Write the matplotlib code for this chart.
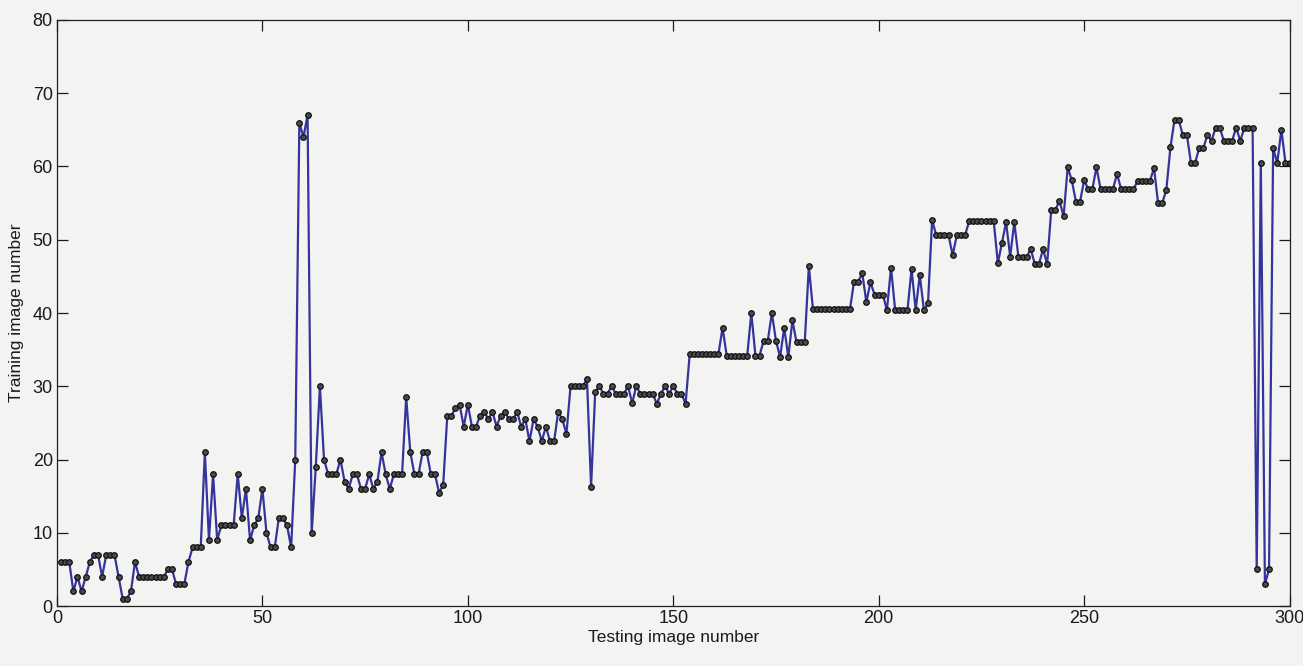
import matplotlib
matplotlib.use("Agg")
import matplotlib.pyplot as plt

# matched training image for each testing image (1..300)
testing_idx = list(range(1, 301))
training_idx = [
    6, 6, 6, 2, 4, 2, 4, 6, 7, 7,
    4, 7, 7, 7, 4, 1, 1, 2, 6, 4,
    4, 4, 4, 4, 4, 4, 5, 5, 3, 3,
    3, 6, 8, 8, 8, 21, 9, 18, 9, 11,
    11, 11, 11, 18, 12, 16, 9, 11, 12, 16,
    10, 8, 8, 12, 12, 11, 8, 20, 66, 64,
    67, 10, 19, 30, 20, 18, 18, 18, 20, 17,
    16, 18, 18, 16, 16, 18, 16, 17, 21, 18,
    16, 18, 18, 18, 28.5, 21, 18, 18, 21, 21,
    18, 18, 15.5, 16.5, 26, 26, 27, 27.5, 24.5, 27.5,
    24.5, 24.5, 26, 26.5, 25.5, 26.5, 24.5, 26, 26.5, 25.5,
    25.5, 26.5, 24.5, 25.5, 22.5, 25.5, 24.5, 22.5, 24.5, 22.5,
    22.5, 26.5, 25.5, 23.5, 30, 30, 30, 30, 31, 16.3,
    29.2, 30, 29, 29, 30, 29, 29, 29, 30, 27.7,
    30, 29, 29, 29, 29, 27.6, 29, 30, 29, 30,
    29, 29, 27.6, 34.4, 34.4, 34.4, 34.4, 34.4, 34.4, 34.4,
    34.4, 38, 34.2, 34.2, 34.2, 34.2, 34.2, 34.2, 40, 34.2,
    34.2, 36.2, 36.2, 40, 36.2, 34, 38, 34, 39, 36,
    36, 36, 46.4, 40.5, 40.5, 40.5, 40.5, 40.5, 40.5, 40.5,
    40.5, 40.5, 40.5, 44.3, 44.3, 45.4, 41.5, 44.2, 42.5, 42.5,
    42.5, 40.4, 46.2, 40.4, 40.4, 40.4, 40.4, 46, 40.4, 45.2,
    40.4, 41.3, 52.7, 50.6, 50.6, 50.6, 50.6, 47.9, 50.6, 50.6,
    50.6, 52.5, 52.5, 52.5, 52.5, 52.5, 52.5, 52.5, 46.8, 49.6,
    52.4, 47.7, 52.4, 47.7, 47.7, 47.7, 48.7, 46.7, 46.7, 48.7,
    46.7, 54.1, 54.1, 55.3, 53.2, 59.9, 58.1, 55.2, 55.2, 58.1,
    56.9, 56.9, 59.9, 56.9, 56.9, 56.9, 56.9, 59, 56.9, 56.9,
    56.9, 56.9, 58, 58, 58, 58, 59.8, 55, 55, 56.8,
    62.6, 66.4, 66.4, 64.3, 64.3, 60.5, 60.5, 62.5, 62.5, 64.3,
    63.5, 65.3, 65.3, 63.5, 63.5, 63.5, 65.3, 63.5, 65.3, 65.3,
    65.3, 5, 60.5, 3, 5, 62.5, 60.5, 65, 60.5, 60.5,
]

x_ticks = [0, 50, 100, 150, 200, 250, 300]
y_ticks = [0, 10, 20, 30, 40, 50, 60, 70, 80]

plt.rcParams['font.family'] = ['Liberation Sans', 'DejaVu Sans']

paper = '#f3f3f1'
fig = plt.figure(figsize=(13.03, 6.66), dpi=100, facecolor=paper)
ax = fig.add_axes([0.0437, 0.090, 0.946, 0.880], facecolor=paper)

ax.plot(testing_idx, training_idx, color='#34349c', linewidth=1.6,
        marker='o', markersize=4, markerfacecolor='#4a4a4a',
        markeredgecolor='#111111', markeredgewidth=0.9)

ax.set_xlim(0, 300)
ax.set_ylim(0, 80)
ax.set_xticks(x_ticks)
ax.set_yticks(y_ticks)
ax.tick_params(direction='in', length=8, width=0.9, top=True, right=True,
               labelsize=13, pad=3, colors='#1a1a1a')
for s in ax.spines.values():
    s.set_linewidth(0.9)
    s.set_color('#222222')

ax.set_xlabel('Testing image number', fontsize=12.5, labelpad=2, color='#1a1a1a')
ax.set_ylabel('Training image number', fontsize=12.5, labelpad=6, color='#1a1a1a')

fig.savefig('out.png', dpi=100, facecolor=paper)
plt.close(fig)
